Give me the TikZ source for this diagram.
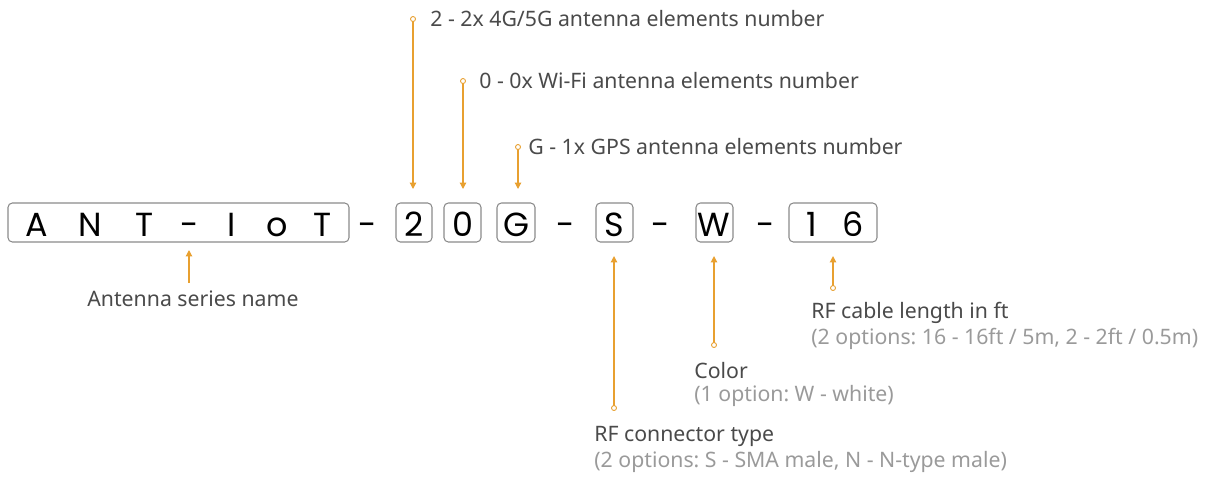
\documentclass[tikz,border=0pt]{standalone}
\usepackage{fontspec}
\setmainfont{Noto Sans}
\newfontfamily\codefont{Poppins}
\usetikzlibrary{arrows.meta}
\frenchspacing
\definecolor{pinorange}{HTML}{E8A030}
\definecolor{labelgray}{HTML}{4A4A4A}
\definecolor{optgray}{HTML}{9A9A9A}
\definecolor{boxgray}{HTML}{8A8A8A}
\tikzset{
  codebox/.style={draw=boxgray, rounded corners=2.5pt, line width=0.6pt},
  codechar/.style={font=\codefont\fontsize{19}{22}\selectfont, text=black, inner sep=0pt, anchor=base},
  pin/.style={draw=pinorange, line width=0.7pt, -{Triangle[length=3.6pt,width=3.6pt]}},
  pinstart/.style={draw=pinorange, fill=white, line width=0.5pt},
  label/.style={font=\fontsize{12.1}{14}\selectfont, text=labelgray, inner sep=0pt, anchor=west},
  option/.style={font=\fontsize{12.1}{14}\selectfont, text=optgray, inner sep=0pt, anchor=west}
}
\begin{document}
\begin{tikzpicture}[x=0.02cm,y=-0.02cm]
\useasboundingbox (0,0) rectangle (1206,478);
% code boxes
\draw[codebox] (8,203) rectangle (349,242);
\draw[codebox] (396,203) rectangle (432,242);
\draw[codebox] (444,203) rectangle (481,242);
\draw[codebox] (497,203) rectangle (535,242);
\draw[codebox] (596,203) rectangle (633,242);
\draw[codebox] (696,203) rectangle (733,242);
\draw[codebox] (789,203) rectangle (877,242);
% code characters
\path (37,236) node[codechar] (a0) {A};
\path (90,236) node[codechar] (a1) {N};
\path (145,236) node[codechar] (a2) {T};
\path (190,236) node[codechar] (a3) {-};
\path (232,236) node[codechar] (a4) {I};
\path (277,236) node[codechar] (a5) {o};
\path (323,236) node[codechar] (a6) {T};
\path (368,236) node[codechar] (d0) {-};
\path (414,236) node[codechar] (n0) {2};
\path (463,236) node[codechar] (n1) {0};
\path (516,236) node[codechar] (n2) {G};
\path (566,236) node[codechar] (d1) {-};
\path (614,236) node[codechar] (n3) {S};
\path (661,236) node[codechar] (d2) {-};
\path (714,236) node[codechar] (n4) {W};
\path (766,236) node[codechar] (d3) {-};
\path (812,236) node[codechar] (n5) {1};
\path (853,236) node[codechar] (n6) {6};
% pin ends
\coordinate (s0) at (413,19);
\coordinate (e0) at (413,189);
\coordinate (s1) at (463,81);
\coordinate (e1) at (463,189);
\coordinate (s2) at (518,147);
\coordinate (e2) at (518,189);
\coordinate (s3) at (189,283);
\coordinate (e3) at (189,250);
\coordinate (s4) at (614,408);
\coordinate (e4) at (614,256);
\coordinate (s5) at (714,345);
\coordinate (e5) at (714,256);
\coordinate (s6) at (833,288);
\coordinate (e6) at (833,256);
% pins
\draw[pin] (s0) -- (e0);
\draw[pin] (s1) -- (e1);
\draw[pin] (s2) -- (e2);
\draw[pin] (s3) -- (e3);
\draw[pin] (s4) -- (e4);
\draw[pin] (s5) -- (e5);
\draw[pin] (s6) -- (e6);
\draw[pinstart] (s0) circle (2.5);
\draw[pinstart] (s1) circle (2.5);
\draw[pinstart] (s2) circle (2.5);
\draw[pinstart] (s4) circle (2.5);
\draw[pinstart] (s5) circle (2.5);
\draw[pinstart] (s6) circle (2.5);
% labels
\path (430,19) node[label] (l0) {2 - 2x 4G/5G antenna elements number};
\path (479,81) node[label] (l1) {0 - 0x Wi-Fi antenna elements number};
\path (528,147) node[label] (l2) {G - 1x GPS antenna elements number};
\path (87,299) node[label] (l3) {Antenna series name};
\path (594,436) node[label] (l4) {RF connector type};
\path (594,462) node[option] (o4) {(2 options: S - SMA male, N - N-type male)};
\path (694,371) node[label] (l5) {Color};
\path (694,396) node[option] (o5) {(1 option: W - white)};
\path (811,313) node[label] (l6) {RF cable length in ft};
\path (811,339) node[option] (o6) {(2 options: 16 - 16ft / 5m, 2 - 2ft / 0.5m)};
\end{tikzpicture}
\end{document}
